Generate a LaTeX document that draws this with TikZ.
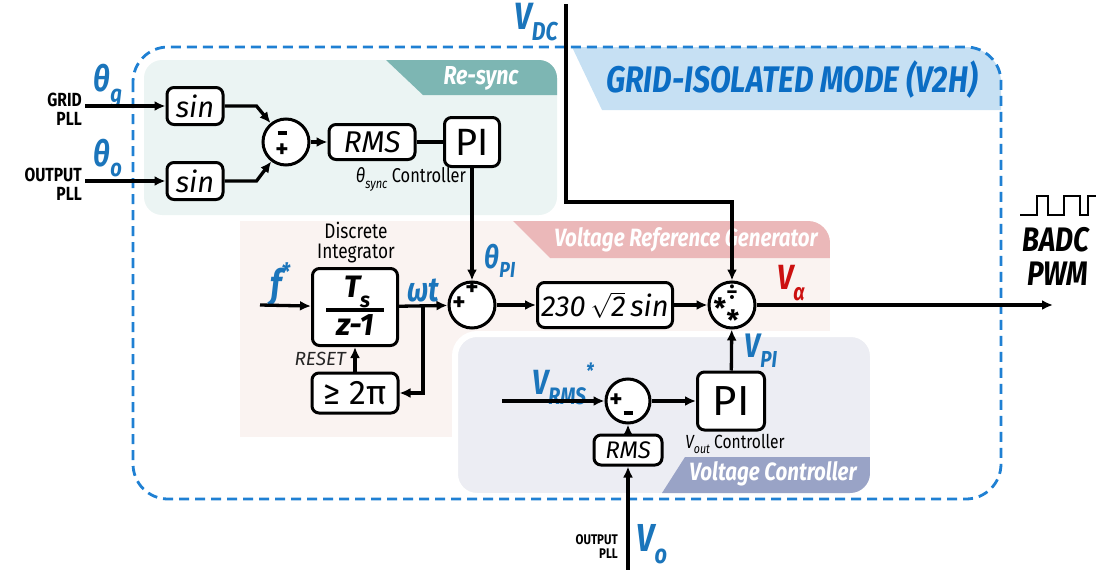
\documentclass[tikz,border=0pt]{standalone}
\usepackage{fontspec}
\usepackage{graphicx}
\setmainfont{Fira Sans}
\newfontfamily\condf[FakeStretch=0.82]{Fira Sans}
\usetikzlibrary{positioning, arrows.meta, calc}
\definecolor{cLbl}{HTML}{1B75BB}
\definecolor{cDash}{HTML}{1F80D3}
\definecolor{cMode}{HTML}{C6E0F3}
\definecolor{cModeT}{HTML}{0B6DC4}
\definecolor{cSync}{HTML}{EBF4F3}
\definecolor{cSyncT}{HTML}{7DB6B3}
\definecolor{cRef}{HTML}{FAF3F1}
\definecolor{cRefT}{HTML}{EBB8B9}
\definecolor{cCtl}{HTML}{ECEDF3}
\definecolor{cCtlT}{HTML}{99A3C6}
\definecolor{cVa}{HTML}{CC1010}
\tikzset{
  blk/.style={
    draw, line width=3pt,
    rounded corners=7pt,
    fill=white,
    inner sep=0pt,
    align=center
  },
  sumnode/.style={
    circle, draw, line width=3pt,
    fill=white,
    minimum size=46pt,
    inner sep=0pt
  },
  sig/.style={
    -{Latex[length=11pt,width=10pt]},
    line width=3.3pt
  },
  wire/.style={line width=3.3pt},
  lbl/.style={
    font=\condf\bfseries\itshape\fontsize{#1}{#1}\selectfont,
    text=cLbl,
    inner sep=0pt
  },
  note/.style={
    font=\condf\fontsize{#1}{#1}\selectfont,
    inner sep=0pt,
    align=center
  },
  tabtext/.style={
    text=white,
    font=\condf\bfseries\itshape\fontsize{25}{25}\selectfont,
    inner sep=0pt
  },
  sign/.style={
    font=\bfseries\fontsize{25}{25}\selectfont,
    inner sep=0pt
  }
}
\newcommand{\sbs}[1]{\raisebox{-0.3em}{\scalebox{0.68}{#1}}}
\newcommand{\sps}[1]{\raisebox{0.45em}{\scalebox{0.6}{#1}}}

\begin{document}
\begin{tikzpicture}[x=1pt, y=-1pt]
  \useasboundingbox (0,0) rectangle (1096,570);

  % shaded groups
  \fill[cSync, rounded corners=18pt] (144,60) rectangle (557,215);
  \begin{scope}
    \clip[rounded corners=18pt] (144,60) rectangle (557,215);
    \fill[cSyncT] (386,60) -- (557,60) -- (557,95) -- (423,95) -- cycle;
  \end{scope}
  \node[tabtext, font=\condf\bfseries\itshape\fontsize{26}{26}\selectfont] (tsync) at (481,78) {Re-sync};

  \begin{scope}
    \clip (240,221) rectangle (830,437);
    \clip[rounded corners=22pt] (200,221) rectangle (830,480);
    \fill[cRef] (240,221) rectangle (830,437);
    \fill[cRefT] (513,221) -- (830,221) -- (830,258) -- (550,258) -- cycle;
  \end{scope}
  \node[tabtext] (tref) at (686,240) {Voltage Reference Generator};

  \filldraw[fill=cCtl, draw=white, line width=6pt, rounded corners=22pt] (455,334) rectangle (873,496);
  \begin{scope}
    \clip[rounded corners=20pt] (458,337) rectangle (870,493);
    \fill[cCtlT] (662,493) -- (685,457) -- (870,457) -- (870,493) -- cycle;
  \end{scope}
  \node[tabtext] (tctl) at (773,474) {Voltage Controller};

  \begin{scope}
    \clip[rounded corners=35pt] (133,47) rectangle (1001,499);
    \fill[cMode] (572,47) -- (1001,47) -- (1001,110) -- (602,110) -- cycle;
  \end{scope}
  \draw[cDash, line width=2.8pt, dash pattern=on 10pt off 6pt, rounded corners=35pt] (133,47) rectangle (1001,499);
  \node[text=cModeT, font=\condf\bfseries\itshape\fontsize{37}{37}\selectfont, inner sep=0pt] (mode) at (792,80) {GRID-ISOLATED MODE (V2H)};

  % re-sync
  \node[blk, minimum width=56pt, minimum height=37pt, font=\itshape\fontsize{29}{29}\selectfont] (sinA) at (195,106) {sin};
  \node[blk, minimum width=56pt, minimum height=37pt, font=\itshape\fontsize{29}{29}\selectfont] (sinB) at (195,181) {sin};
  \node[sumnode] (sumA) at (286,142) {};
  \node[sign] (sumAm) at ($(sumA)+(-4,-9)$) {\rule{9pt}{4pt}};
  \node[sign] (sumAp) at ($(sumA)+(-4,9)$) {+};
  \node[blk, minimum width=86pt, minimum height=35pt, font=\itshape\fontsize{30}{30}\selectfont] (rmsA) at (372,142) {RMS};
  \node[blk, minimum width=55pt, minimum height=49pt, font=\fontsize{38}{38}\selectfont] (piA) at (472,142) {PI};
  \node[note=20] (syncctl) at (411,179) {{\itshape θ\sbs{sync}} Controller};

  \coordinate (gin) at (85,106);
  \coordinate (oin) at (85,181);
  \node[font=\condf\bfseries\fontsize{19}{19}\selectfont, inner sep=0pt, anchor=east, align=right] (gridpll) at (82,109) {GRID\\PLL};
  \node[font=\condf\bfseries\fontsize{19}{19}\selectfont, inner sep=0pt, anchor=east, align=right] (outpll) at (82,184) {OUTPUT\\PLL};
  \node[lbl=36] (thg) at (108,86) {θ\sbs{g}};
  \node[lbl=36] (tho) at (108,158) {θ\sbs{o}};

  \draw[sig] (gin) -- (sinA);
  \draw[sig] (oin) -- (sinB);
  \draw[sig] (sinA.east) -- ++(32,0) -- (sumA);
  \draw[sig] (sinB.east) -- ++(32,0) -- (sumA);
  \draw[sig] (sumA) -- (rmsA);
  \draw[wire] (rmsA) -- (piA);

  % reference generator
  \node[blk, minimum width=85pt, minimum height=77pt] (integ) at (355,307) {};
  \node[inner sep=0pt, font=\bfseries\itshape\fontsize{31}{31}\selectfont] (integN) at ($(integ)+(2,-15)$) {T\sbs{s}};
  \node[inner sep=0pt, font=\bfseries\itshape\fontsize{31}{31}\selectfont] (integD) at ($(integ)+(0,18)$) {z-1};
  \draw[line width=3.5pt] ($(integ)+(-29,3)$) -- ($(integ)+(29,3)$);
  \node[font=\condf\fontsize{21}{20}\selectfont, inner sep=0pt, align=center] (integlbl) at (356,243) {Discrete\\Integrator};
  \node[blk, minimum width=86pt, minimum height=40pt, font=\fontsize{34}{34}\selectfont] (wrap) at (355,393) {≥ 2π};
  \node[sumnode] (sumB) at (472,305) {};
  \node[sign] (sumBp1) at ($(sumB)+(0,-16)$) {+};
  \node[sign] (sumBp2) at ($(sumB)+(-13,-1)$) {+};
  \node[blk, minimum width=135pt, minimum height=45pt, font=\itshape\fontsize{29}{29}\selectfont] (gain) at (605,305) {230\,$\sqrt{\mbox{2}}$\,sin};
  \node[sumnode] (divm) at (732,305) {};
  \node[sign, font=\bfseries\fontsize{22}{22}\selectfont] (divmd) at ($(divm)+(0,-13)$) {÷};
  \node[sign, font=\bfseries\fontsize{28}{28}\selectfont] (divms1) at ($(divm)+(-12,3)$) {*};
  \node[sign, font=\bfseries\fontsize{28}{28}\selectfont] (divms2) at ($(divm)+(1,15)$) {*};

  \coordinate (fin) at (260,305);
  \coordinate (wtap) at (423,305);
  \coordinate (vdc) at (566,4);
  \coordinate (vdcbend) at (566,202);
  \coordinate (pwm) at (1053,305);
  \node[lbl=40] (fstar) at (280,285) {f\sps{*}};
  \node[lbl=34] (wt) at (423,290) {ωt};
  \node[lbl=32] (thpi) at (500,261) {θ\sbs{PI}};
  \node[lbl=38] (vdclbl) at (536,22) {V\sbs{DC}};
  \node[lbl=35, text=cVa] (valbl) at (791,283) {V\sbs{α}};
  \node[font=\itshape\fontsize{19}{19}\selectfont, inner sep=0pt, anchor=east, text=black!85] (reset) at (346,359) {RESET};

  \draw[sig] (fin) -- (integ);
  \draw[sig] (integ) -- (sumB);
  \draw[sig] (wtap) |- (wrap.east);
  \draw[sig] (wrap) -- (integ);
  \draw[sig] (piA) -- (sumB);
  \draw[sig] (sumB) -- (gain);
  \draw[sig] (gain) -- (divm);
  \draw[sig] (vdc) -- (vdcbend) -| (divm.north);
  \draw[sig] (divm) -- (pwm);

  % voltage controller
  \node[sumnode, minimum size=44pt] (sumC) at (628,401) {};
  \node[sign] (sumCp) at ($(sumC)+(-12,0)$) {+};
  \node[sign] (sumCm) at ($(sumC)+(0,12)$) {\rule{9pt}{4pt}};
  \node[blk, minimum width=67pt, minimum height=58pt, font=\fontsize{42}{42}\selectfont] (piB) at (731,401) {PI};
  \node[blk, minimum width=68pt, minimum height=30pt, font=\itshape\fontsize{24}{24}\selectfont] (rmsB) at (628,450) {RMS};
  \node[note=19] (outctl) at (735,444) {{\itshape V\sbs{out}} Controller};

  \coordinate (vrin) at (502,401);
  \coordinate (voin) at (628,570);
  \node[lbl=35] (vrms) at (563,384) {V\sbs{RMS}\sps{*}};
  \node[lbl=34] (vpi) at (761,351) {V\sbs{PI}};
  \node[lbl=39] (volbl) at (652,544) {V\sbs{o}};
  \node[font=\condf\bfseries\fontsize{14}{14}\selectfont, inner sep=0pt, anchor=east, align=right] (botpll) at (618,547) {OUTPUT\\PLL};

  \draw[sig] (vrin) -- (sumC);
  \draw[sig] (sumC) -- (piB);
  \draw[sig] (rmsB) -- (sumC);
  \draw[sig] (voin) -- (rmsB);
  \draw[sig] (piB) -- (divm);

  % output pulses
  \draw[line width=2.6pt] (1020,215) -- (1037,215) -- (1037,196) -- (1048,196) -- (1048,215) -- (1064,215) -- (1064,196) -- (1080,196) -- (1080,215) -- (1088,215) -- (1088,196) -- (1096,196);
  \node[font=\condf\bfseries\itshape\fontsize{34}{34}\selectfont, inner sep=0pt] (badc) at (1056,240) {BADC};
  \node[font=\condf\bfseries\itshape\fontsize{34}{34}\selectfont, inner sep=0pt] (pwmlbl) at (1058,274) {PWM};
\end{tikzpicture}
\end{document}
